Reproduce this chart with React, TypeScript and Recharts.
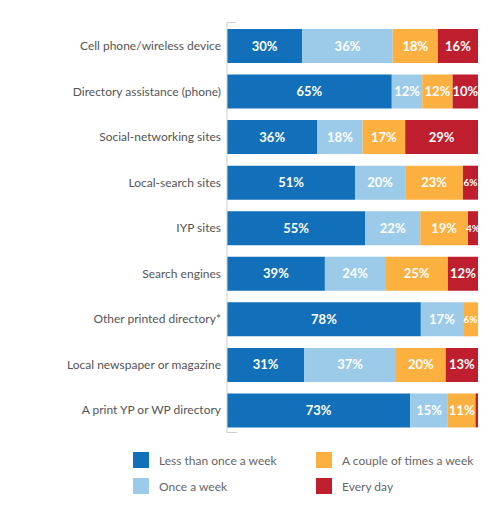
import { BarChart, Bar, XAxis, YAxis, LabelList } from "recharts";

// ─── Data ────────────────────────────────────────────────────────────────────

const categories = [
  "Cell phone/wireless device",
  "Directory assistance (phone)",
  "Social-networking sites",
  "Local-search sites",
  "IYP sites",
  "Search engines",
  "Other printed directory*",
  "Local newspaper or magazine",
  "A print YP or WP directory",
];

const lessThanWeekly = [30, 65, 36, 51, 55, 39, 78, 31, 73];
const onceAWeek = [36, 12, 18, 20, 22, 24, 17, 37, 15];
const coupleTimes = [18, 12, 17, 23, 19, 25, 6, 20, 11];
const everyDay = [16, 10, 29, 6, 4, 12, 0, 13, 1];

const seriesNames = [
  "Less than once a week",
  "Once a week",
  "A couple of times a week",
  "Every day",
];

// ─── Styles ──────────────────────────────────────────────────────────────────

const DARK_BLUE = "#1170b9";
const LIGHT_BLUE = "#9ccbea";
const ORANGE = "#fbb040";
const RED = "#be1e2d";
const COLORS = [DARK_BLUE, LIGHT_BLUE, ORANGE, RED];
const FONT = "Lato, 'Open Sans', sans-serif";
const AXIS_GRAY = "#cfcfcf";

document.body.style.margin = "0";

const data = categories.map((name, i) => ({
  name,
  less: lessThanWeekly[i],
  once: onceAWeek[i],
  couple: coupleTimes[i],
  daily: everyDay[i],
}));

const keys = ["less", "once", "couple", "daily"];

function SegmentLabel(props: any) {
  const { x, y, width, height, value } = props;
  if (!value || value < 2) return null;
  const small = width < 22;
  return (
    <text
      x={x + width / 2}
      y={y + height / 2}
      dy={small ? 3.5 : 4.5}
      textAnchor="middle"
      fill="#ffffff"
      fontFamily={FONT}
      fontWeight={700}
      fontSize={small ? 10 : 13}
    >
      {value}%
    </text>
  );
}

function LegendGrid() {
  const order = [0, 2, 1, 3];
  return (
    <div
      style={{
        position: "absolute",
        left: 133,
        top: 452,
        display: "grid",
        gridTemplateColumns: "183px 170px",
        rowGap: 10,
        fontFamily: FONT,
        fontSize: 12,
        color: "#666",
        whiteSpace: "nowrap",
      }}
    >
      {order.map((idx) => (
        <div key={idx} style={{ display: "flex", alignItems: "center", height: 16 }}>
          <span
            style={{
              width: 16,
              height: 16,
              background: COLORS[idx],
              display: "inline-block",
              marginRight: 10,
            }}
          />
          {seriesNames[idx]}
        </div>
      ))}
    </div>
  );
}

export default function App() {
  return (
    <div style={{ position: "relative", width: 500, height: 519, background: "#fff" }}>
      <BarChart
        width={500}
        height={519}
        data={data}
        layout="vertical"
        stackOffset="expand"
        margin={{ top: 23, right: 22, bottom: 86, left: 0 }}
        barSize={34}
      >
        <XAxis type="number" hide domain={[0, 1]} />
        <YAxis
          type="category"
          dataKey="name"
          width={227}
          tickLine={false}
          axisLine={{ stroke: AXIS_GRAY }}
          tickMargin={0}
          tick={{ fontSize: 12, fill: "#555", fontFamily: FONT }}
        />
        {keys.map((k, i) => (
          <Bar
            key={k}
            dataKey={k}
            stackId="a"
            fill={COLORS[i]}
            name={seriesNames[i]}
            isAnimationActive={false}
          >
            <LabelList dataKey={k} content={SegmentLabel} />
          </Bar>
        ))}
      </BarChart>
      <div style={{ position: "absolute", left: 227, top: 22, width: 9, height: 1, background: AXIS_GRAY }} />
      <div style={{ position: "absolute", left: 227, top: 432, width: 10, height: 1, background: AXIS_GRAY }} />
      <LegendGrid />
    </div>
  );
}
